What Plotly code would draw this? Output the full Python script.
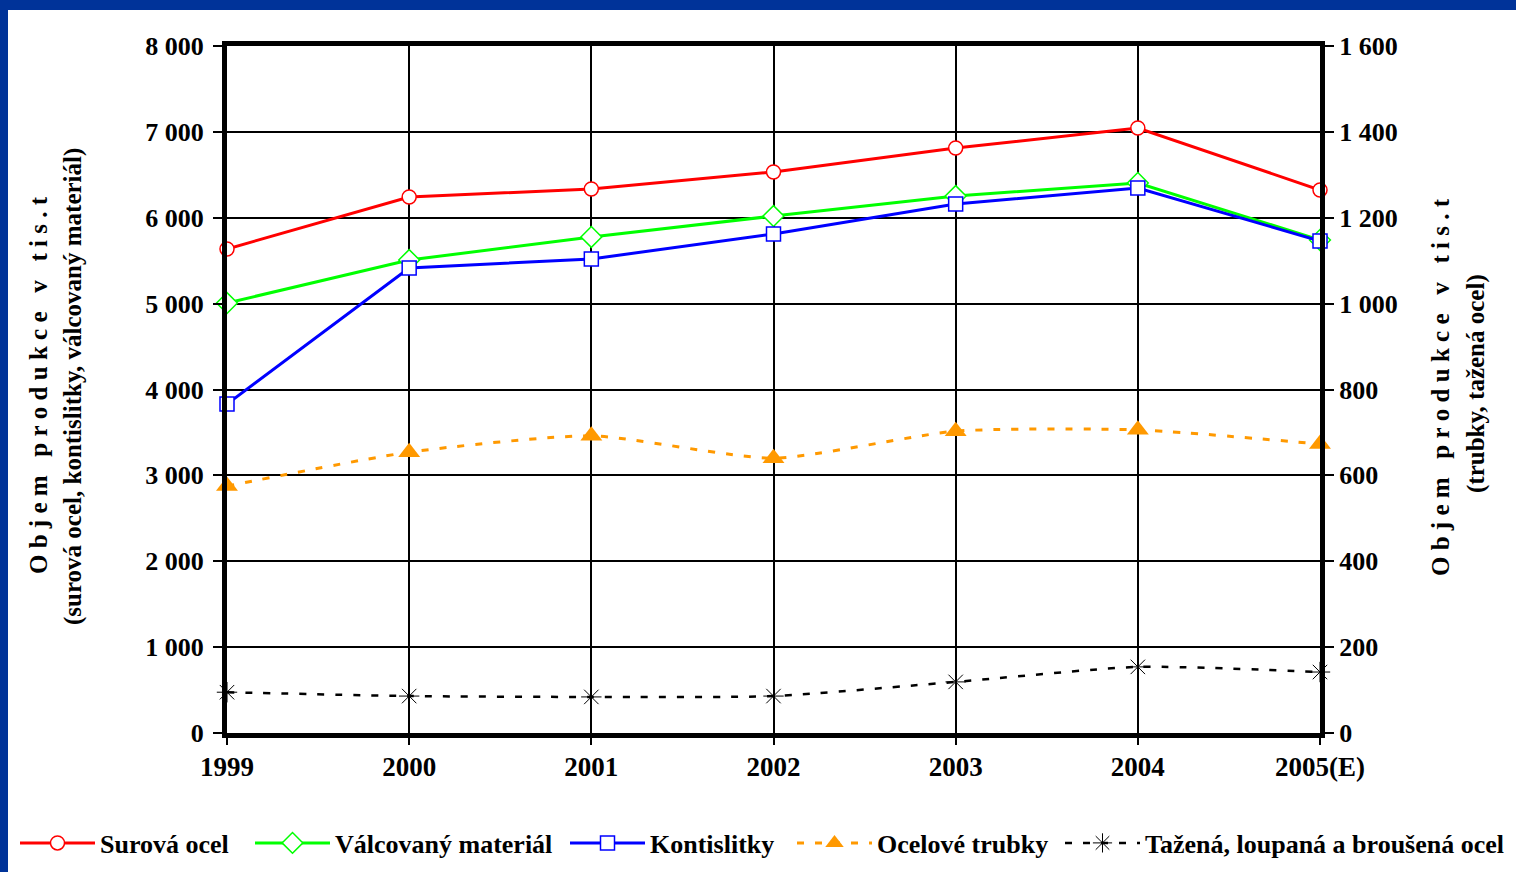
import plotly.graph_objects as go

years = ["1999", "2000", "2001", "2002", "2003", "2004", "2005(E)"]
surova_ocel = [5636, 6242, 6335, 6533, 6812, 7045, 6323]
valcovany_material = [5007, 5508, 5776, 6020, 6253, 6405, 5741]
kontislitky = [3831, 5415, 5520, 5811, 6160, 6346, 5729]
ocelove_trubky = [575, 654, 692, 640, 703, 706, 673]
tazena_ocel = [95, 86, 84, 86, 119, 154, 142]

left_ticks = [0, 1000, 2000, 3000, 4000, 5000, 6000, 7000, 8000]
right_ticks = [0, 200, 400, 600, 800, 1000, 1200, 1400, 1600]

W, H = 1516, 872
L, R, T, B = 227, 1320, 46, 733

def px(xp):
    return (xp - L) / (R - L)

def py(yp):
    return (B - yp) / (B - T)

FONT = "Liberation Serif"
BLUE_BG = "#003399"

fig = go.Figure()

fig.add_trace(go.Scatter(
    x=years, y=surova_ocel, name="Surová ocel", mode="lines+markers", legend="legend",
    line=dict(color="#FF0000", width=3),
    marker=dict(symbol="circle", size=14, color="white", line=dict(color="#FF0000", width=1.5)),
    cliponaxis=False))
fig.add_trace(go.Scatter(
    x=years, y=valcovany_material, name="Válcovaný materiál", mode="lines+markers", legend="legend2",
    line=dict(color="#00FF00", width=3),
    marker=dict(symbol="diamond", size=16, color="white", line=dict(color="#00FF00", width=1.5)),
    cliponaxis=False))
fig.add_trace(go.Scatter(
    x=years, y=kontislitky, name="Kontislitky", mode="lines+markers", legend="legend3",
    line=dict(color="#0000FF", width=3),
    marker=dict(symbol="square", size=14, color="white", line=dict(color="#0000FF", width=1.5)),
    cliponaxis=False))
fig.add_trace(go.Scatter(
    x=years, y=ocelove_trubky, name="Ocelové trubky", mode="lines+markers", yaxis="y2", legend="legend4",
    line=dict(color="#FF9900", width=3, dash="7px,11px", shape="spline", smoothing=0.6),
    marker=dict(symbol="triangle-up", size=19, color="#FF9900"),
    cliponaxis=False))
fig.add_trace(go.Scatter(
    x=years, y=tazena_ocel, name="Tažená, loupaná a broušená ocel", mode="lines+markers", yaxis="y2",
    legend="legend5",
    line=dict(color="black", width=2.5, dash="7px,11px", shape="spline", smoothing=0.6),
    marker=dict(symbol="asterisk-open", size=17, color="black", line=dict(color="black", width=1)),
    cliponaxis=False))

ytickfont = dict(family=FONT, size=26, color="black", weight="bold")
xtickfont = dict(family=FONT, size=27, color="black", weight="bold")
legendfont = dict(family=FONT, size=26, color="black", weight="bold")

legend_starts = [20, 255, 570, 797, 1065]

def legend_cfg(xstart):
    return dict(
        orientation="h", x=px(xstart - 5), xanchor="left", y=py(843), yanchor="middle",
        font=legendfont, bgcolor="rgba(0,0,0,0)", itemwidth=75, tracegroupgap=0,
    )

legend_layout = {}
for i, xs in enumerate(legend_starts):
    key = "legend" if i == 0 else f"legend{i + 1}"
    legend_layout[key] = legend_cfg(xs)

fig.update_layout(
    width=W, height=H,
    margin=dict(l=L, r=W - R, t=T, b=H - B, pad=0, autoexpand=False),
    paper_bgcolor="white", plot_bgcolor="white",
    separators=", ",
    font=dict(family=FONT, color="black"),
    showlegend=True,
    xaxis=dict(
        type="category", range=[0, len(years) - 1],
        showgrid=True, gridcolor="black", gridwidth=1.5,
        showline=True, linecolor="black", linewidth=5, mirror=True,
        ticks="outside", ticklen=7, tickwidth=1.5, tickcolor="black",
        tickfont=xtickfont, ticklabelstandoff=-1, zeroline=False, automargin=False,
    ),
    yaxis=dict(
        range=[0, 8000], tickvals=left_ticks, tickformat=",",
        showgrid=True, gridcolor="black", gridwidth=1.5,
        showline=True, linecolor="black", linewidth=5, mirror=True,
        ticks="outside", ticklen=9, tickwidth=1.5, tickcolor="black",
        tickfont=ytickfont, ticklabelstandoff=4, zeroline=False, automargin=False,
    ),
    yaxis2=dict(
        range=[0, 1600], tickvals=right_ticks, tickformat=",",
        overlaying="y", side="right", showgrid=False,
        showline=True, linecolor="black", linewidth=5,
        ticks="outside", ticklen=9, tickwidth=1.5, tickcolor="black",
        tickfont=ytickfont, ticklabelstandoff=0, zeroline=False, automargin=False,
    ),
    **legend_layout,
)

# dark blue frame bands
fig.add_shape(type="rect", xref="paper", yref="paper",
              x0=px(-5), x1=px(W + 5), y0=py(10), y1=py(-5),
              fillcolor=BLUE_BG, line=dict(width=0), layer="below")
fig.add_shape(type="rect", xref="paper", yref="paper",
              x0=px(-5), x1=px(8), y0=py(H + 5), y1=py(-5),
              fillcolor=BLUE_BG, line=dict(width=0), layer="below")

def spaced(s):
    out = []
    for w in s.split(" "):
        out.append("\u00a0".join(list(w)))
    return "\u00a0\u00a0\u00a0".join(out)

title1 = spaced("Objem produkce v tis.t")
titlefont = dict(family=FONT, size=25, color="black", weight="bold")

for xp, ypos, text in [
    (38, 385, title1),
    (73, 387, "(surová ocel, kontislitky, válcovaný materiál)"),
    (1440, 387, title1),
    (1476, 384, "(trubky, tažená ocel)"),
]:
    fig.add_annotation(xref="paper", yref="paper", x=px(xp), y=py(ypos),
                       text=text, textangle=-90, showarrow=False,
                       xanchor="center", yanchor="middle", font=titlefont)

fig.write_html(
    "out.html",
    config={"displayModeBar": False},
    post_script="document.body.style.margin='0';document.body.style.overflow='hidden';",
)
